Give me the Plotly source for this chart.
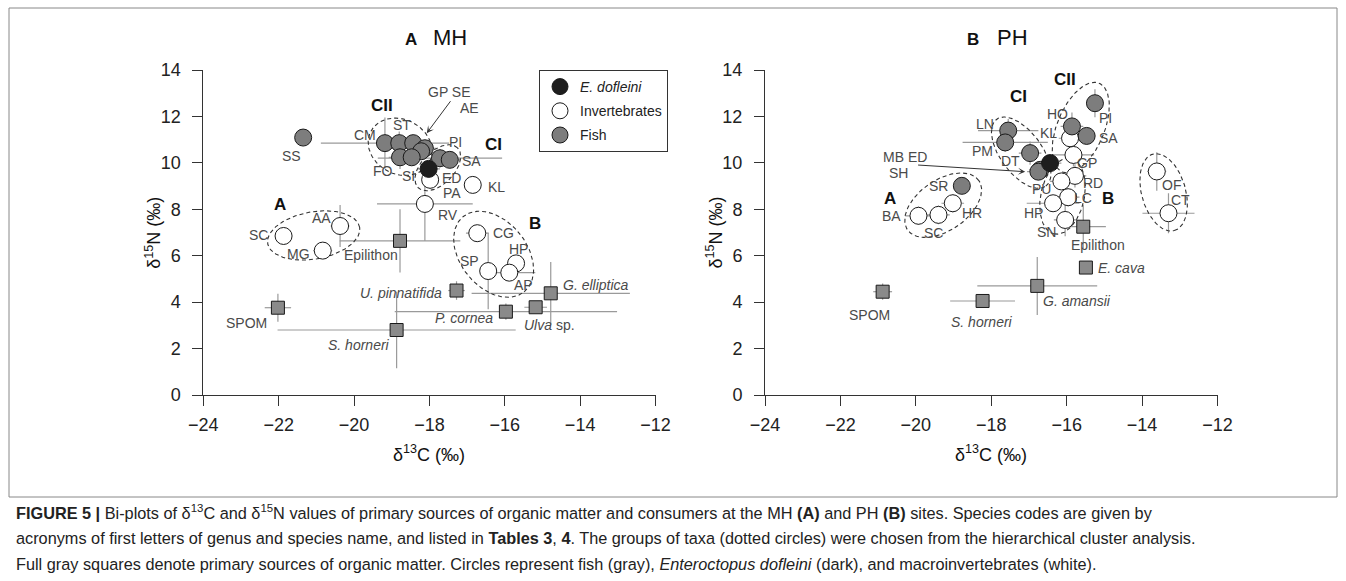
import numpy as np
import plotly.graph_objects as go

W, H = 1346, 581
FONT = "Liberation Sans, Arial, sans-serif"

# ---------------- Data: panel A (MH) ----------------
MH_code = ["SS", "CM", "ST", "GP", "SE", "AE", "FO", "SI", "PI", "SA", "ED", "PA", "KL", "RV",
           "AA", "SC", "MG", "CG", "SP", "HP", "AP",
           "Epilithon", "SPOM", "U. pinnatifida", "S. horneri", "P. cornea", "Ulva sp.", "G. elliptica"]
MH_kind = ["fish", "fish", "fish", "fish", "fish", "fish", "fish", "fish", "fish", "fish", "octo", "inv", "inv", "inv",
           "inv", "inv", "inv", "inv", "inv", "inv", "inv",
           "src", "src", "src", "src", "src", "src", "src"]
MH_c13 = [-21.35, -19.18, -18.80, -18.43, -18.12, -18.22, -18.78, -18.47, -17.72, -17.46, -18.02, -17.98, -16.85, -18.12,
          -20.37, -21.87, -20.83, -16.73, -16.44, -15.70, -15.88,
          -18.78, -22.02, -17.28, -18.87, -15.97, -15.18, -14.78]
MH_n15 = [11.09, 10.85, 10.85, 10.85, 10.63, 10.50, 10.24, 10.24, 10.20, 10.13, 9.74, 9.27, 9.05, 8.23,
          7.28, 6.85, 6.22, 6.97, 5.34, 5.67, 5.27,
          6.64, 3.76, 4.50, 2.80, 3.59, 3.78, 4.38]
MH_c13_sd = [0.05, 1.70, 0.30, 0.30, 0.30, 0.20, 0.30, 0.30, 1.65, 0.30, 0.30, 0.20, 0.20, 1.27,
             0.25, 0.22, 0.25, 0.30, 0.20, 0.20, 0.69,
             1.60, 0.35, 0.22, 3.16, 2.95, 0.30, 2.10]
MH_n15_sd = [0.05, 1.10, 0.50, 0.30, 0.30, 0.20, 0.50, 0.30, 0.40, 0.30, 0.30, 0.40, 0.20, 1.60,
             0.90, 0.36, 0.30, 0.20, 1.65, 0.20, 0.20,
             1.36, 0.60, 0.40, 1.65, 0.35, 0.15, 1.35]
MH_groups = {"A": ["SC", "MG", "AA"], "B": ["CG", "SP", "HP", "AP"],
             "CII": ["CM", "ST", "GP", "FO", "SI"], "CI": ["ED", "PA", "PI", "SA"]}

# ---------------- Data: panel B (PH) ----------------
PH_code = ["BA", "SC", "HR", "SR", "LN", "PM", "DT", "MB", "SH", "ED", "KL", "HO", "PI", "SA",
           "GP", "RD", "PU", "LC", "HP", "SN", "OF", "CT",
           "Epilithon", "E. cava", "G. amansii", "S. horneri", "SPOM"]
PH_kind = ["inv", "inv", "inv", "fish", "fish", "fish", "fish", "fish", "fish", "octo", "inv", "fish", "fish", "fish",
           "inv", "inv", "inv", "inv", "inv", "inv", "inv", "inv",
           "src", "src", "src", "src", "src"]
PH_c13 = [-19.93, -19.40, -19.02, -18.78, -17.55, -17.63, -16.97, -16.70, -16.75, -16.44, -15.91, -15.86, -15.25, -15.47,
          -15.82, -15.78, -16.14, -15.96, -16.36, -16.04, -13.61, -13.30,
          -15.56, -15.49, -16.78, -18.23, -20.88]
PH_n15 = [7.72, 7.76, 8.26, 9.01, 11.39, 10.88, 10.42, 9.70, 9.62, 9.99, 11.06, 11.57, 12.57, 11.16,
          10.34, 9.44, 9.20, 8.52, 8.26, 7.54, 9.63, 7.83,
          7.25, 5.49, 4.70, 4.05, 4.45]
PH_c13_sd = [0.35, 0.30, 0.30, 0.15, 0.80, 1.13, 0.30, 0.30, 0.30, 0.30, 0.30, 0.30, 0.20, 0.20,
             0.55, 0.30, 0.30, 0.30, 0.70, 0.30, 0.25, 0.69,
             0.60, 0.05, 1.59, 0.86, 0.25]
PH_n15_sd = [0.40, 0.40, 0.40, 0.15, 0.50, 0.40, 0.50, 0.30, 0.30, 0.30, 0.30, 0.60, 0.60, 0.30,
             0.50, 0.50, 0.30, 0.40, 0.30, 0.70, 0.83, 0.86,
             0.95, 0.05, 1.25, 0.10, 0.35]
PH_groups = {"A": ["BA", "SC", "HR", "SR"], "CI": ["LN", "PM", "DT", "MB", "SH"],
             "CII": ["HO", "PI", "SA", "KL", "GP"], "B": ["PU", "RD", "LC", "HP", "SN"],
             "D": ["OF", "CT"]}

# ---------------- Text placement (annotation positions) ----------------
MH_labels = [("SS", -21.67, 10.30), ("CM", -19.71, 11.21), ("ST", -18.74, 11.64), ("GP SE", -17.46, 13.07),
             ("AE", -16.93, 12.36), ("PI", -17.32, 10.89), ("SA", -16.88, 10.06), ("FO", -19.22, 9.67),
             ("SI", -18.56, 9.44), ("ED", -17.41, 9.34), ("PA", -17.41, 8.72), ("KL", -16.22, 8.95),
             ("RV", -17.50, 7.76), ("AA", -20.86, 7.62), ("SC", -22.54, 6.90), ("MG", -21.48, 6.08),
             ("Epilithon", -19.55, 6.03), ("CG", -16.04, 6.97), ("HP", -15.64, 6.28), ("SP", -16.93, 5.79),
             ("AP", -15.49, 4.74), ("<i>G. elliptica</i>", -13.58, 4.74), ("<i>U. pinnatifida</i>", -18.76, 4.38),
             ("<i>P. cornea</i>", -17.09, 3.30), ("<i>Ulva</i> sp.", -14.81, 3.00), ("SPOM", -22.86, 3.12),
             ("<i>S. horneri</i>", -19.87, 2.16)]
MH_bold = [("CII", -19.25, 12.45), ("CI", -16.31, 10.80), ("A", -21.96, 8.19), ("B", -15.19, 7.40)]
MH_arrow = (-17.41, 12.72, -18.07, 11.28)

PH_labels = [("HO", -16.23, 12.11), ("PI", -14.98, 11.93), ("SA", -14.90, 11.08), ("LN", -18.16, 11.68),
             ("KL", -16.49, 11.29), ("PM", -18.22, 10.53), ("DT", -17.50, 10.09), ("GP", -15.47, 10.01),
             ("MB ED", -20.30, 10.27), ("SH", -20.47, 9.58), ("SR", -19.40, 9.02), ("RD", -15.30, 9.14),
             ("PU", -16.66, 8.87), ("HR", -18.52, 7.86), ("LC", -15.57, 8.49), ("BA", -20.64, 7.69),
             ("SC", -19.53, 6.97), ("HP", -16.88, 7.83), ("SN", -16.53, 7.04), ("Epilithon", -15.17, 6.47),
             ("OF", -13.21, 9.05), ("CT", -12.99, 8.41), ("<i>E. cava</i>", -14.54, 5.49),
             ("<i>G. amansii</i>", -15.73, 4.05), ("<i>S. horneri</i>", -18.25, 3.16), ("SPOM", -21.23, 3.45)]
PH_bold = [("CI", -17.29, 12.84), ("CII", -16.05, 13.60), ("A", -20.68, 8.48), ("B", -14.90, 8.48)]
PH_arrow = (-19.98, 9.91, -17.10, 9.62)

# ---------------- Figure geometry ----------------
X0A, X1A, X0B, X1B = 203.3, 655.5, 765.0, 1217.5
YTOP, YBOT = 70.0, 395.0
SX = (X1A - X0A) / 12.0
SY = (YBOT - YTOP) / 14.0


def px(x):
    return x / W


def py(y):
    return 1 - y / H


STYLE = {
    "fish": dict(color="#7d7d7d", symbol="circle", size=17, name="Fish"),
    "inv": dict(color="#ffffff", symbol="circle", size=17, name="Invertebrates"),
    "octo": dict(color="#1e1e1e", symbol="circle", size=17, name="<i>E. dofleini</i>"),
    "src": dict(color="#8a8a8a", symbol="square", size=13, name="Sources"),
}

fig = go.Figure()


def ellipse(xs, ys, pad_a, pad_b, dx=0.0, dy=0.0):
    """Dashed group outline around member points (geometry in screen pixels)."""
    P = np.column_stack([np.asarray(xs) * SX, np.asarray(ys) * SY])
    d = ((P[:, None, :] - P[None, :, :]) ** 2).sum(-1)
    i, j = np.unravel_index(d.argmax(), d.shape)
    u = P[j] - P[i]
    u = u / np.linalg.norm(u)
    v = np.array([-u[1], u[0]])
    pu, pv = P @ u, P @ v
    cu, cv = (pu.max() + pu.min()) / 2, (pv.max() + pv.min()) / 2
    a = (pu.max() - pu.min()) / 2 + pad_a
    b = (pv.max() - pv.min()) / 2 + pad_b
    t = np.linspace(0, 2 * np.pi, 140)
    pts = np.outer(cu + a * np.cos(t), u) + np.outer(cv + b * np.sin(t), v) + np.array([dx, dy])
    return pts[:, 0] / SX, pts[:, 1] / SY


# outline padding (px along major, px along minor, x shift px, y shift px)
PADS = {"MH": {"A": (18, 13, 0, 6), "B": (23, 20, 2, 0), "CII": (18, 18, 0, 0), "CI": (14, 12, 1, -1)},
        "PH": {"A": (17, 20, 0, 0), "CI": (16, 14, 0, 0), "CII": (20, 15, 0, 0), "B": (16, 14, 0, 0),
               "D": (18, 22, 1, 0)}}
LEGEND_RANK = {"octo": 1, "inv": 2, "fish": 3, "src": 4}


def add_panel(code, kind, c13, n15, c13sd, n15sd, groups, pads, xa, ya, legend):
    # error bars (all behind markers)
    fig.add_trace(go.Scatter(
        x=c13, y=n15, mode="markers", marker=dict(size=1, opacity=0), showlegend=False, hoverinfo="skip",
        error_x=dict(type="data", array=c13sd, color="#9a9a9a", thickness=1.2, width=0),
        error_y=dict(type="data", array=n15sd, color="#9a9a9a", thickness=1.2, width=0),
        xaxis=xa, yaxis=ya))
    # group outlines
    idx = {c: k for k, c in enumerate(code)}
    for g, members in groups.items():
        ex, ey = ellipse([c13[idx[m]] for m in members], [n15[idx[m]] for m in members], *pads[g])
        fig.add_trace(go.Scatter(x=ex, y=ey, mode="lines", line=dict(color="#333333", width=1.1, dash="4px,3px"),
                                 showlegend=False, hoverinfo="skip", xaxis=xa, yaxis=ya))
    for kd in ["src", "inv", "fish", "octo"]:
        sel = [k for k in range(len(code)) if kind[k] == kd]
        st = STYLE[kd]
        fig.add_trace(go.Scatter(
            x=[c13[k] for k in sel], y=[n15[k] for k in sel], text=[code[k] for k in sel],
            mode="markers", name=st["name"], legendgroup=kd,
            marker=dict(color=st["color"], symbol=st["symbol"], size=st["size"], line=dict(color="#1a1a1a", width=1)),
            showlegend=legend and kd != "src", legendrank=LEGEND_RANK[kd],
            xaxis=xa, yaxis=ya))


add_panel(MH_code, MH_kind, MH_c13, MH_n15, MH_c13_sd, MH_n15_sd, MH_groups, PADS["MH"], "x", "y", True)
add_panel(PH_code, PH_kind, PH_c13, PH_n15, PH_c13_sd, PH_n15_sd, PH_groups, PADS["PH"], "x2", "y2", False)

annotations = []
for labels, bold, arrow, xr, yr in [(MH_labels, MH_bold, MH_arrow, "x", "y"), (PH_labels, PH_bold, PH_arrow, "x2", "y2")]:
    for t, x, y in labels:
        annotations.append(dict(text=t, x=x, y=y, xref=xr, yref=yr, showarrow=False, xanchor="center",
                                yanchor="middle", font=dict(family=FONT, size=14, color="#4a4a4a")))
    for t, x, y in bold:
        annotations.append(dict(text="<b>%s</b>" % t, x=x, y=y, xref=xr, yref=yr, showarrow=False,
                                xanchor="center", yanchor="middle",
                                font=dict(family=FONT, size=17, color="#111111")))
    annotations.append(dict(text="", x=arrow[2], y=arrow[3], ax=arrow[0], ay=arrow[1], xref=xr, yref=yr,
                            axref=xr, ayref=yr, showarrow=True, arrowhead=3, arrowsize=1.2, arrowwidth=1,
                            arrowcolor="#333333"))


def paper_text(text, x, y, size, angle=0, color="#111"):
    return dict(text=text, x=px(x), y=py(y), xref="paper", yref="paper", xanchor="center", yanchor="middle",
                textangle=angle, showarrow=False, font=dict(family=FONT, size=size, color=color))


# panel titles, axis titles
for x0, x1, letter, site in [(X0A, X1A, "A", "MH"), (X0B, X1B, "B", "PH")]:
    annotations.append(paper_text("<b>%s</b>" % letter, x0 + 207.5, 40, 17))
    annotations.append(paper_text(site, x0 + 247, 37, 22))
    annotations.append(paper_text("δ<sup>13</sup>C (‰)", (x0 + x1) / 2, 453, 18))
    annotations.append(paper_text("δ<sup>15</sup>N (‰)", x0 - 50, (YTOP + YBOT) / 2, 18, angle=-90))

CAPTION = [
    "<b>FIGURE 5 |</b> Bi-plots of δ<sup>13</sup>C and δ<sup>15</sup>N values of primary sources of organic matter and consumers at the MH <b>(A)</b> and PH <b>(B)</b> sites. Species codes are given by",
    "acronyms of first letters of genus and species name, and listed in <b>Tables 3</b>, <b>4</b>. The groups of taxa (dotted circles) were chosen from the hierarchical cluster analysis.",
    "Full gray squares denote primary sources of organic matter. Circles represent fish (gray), <i>Enteroctopus dofleini</i> (dark), and macroinvertebrates (white).",
]
for k, line in enumerate(CAPTION):
    annotations.append(dict(text=line, x=px(14), y=py(512 + 26 * k), xref="paper", yref="paper", xanchor="left",
                            yanchor="middle", showarrow=False,
                            font=dict(family=FONT, size=16.3, color="#222")))

tickx = [-24, -22, -20, -18, -16, -14, -12]
ticky = [0, 2, 4, 6, 8, 10, 12, 14]
axx = dict(range=[-24, -12], tickvals=tickx, ticktext=["\u2212%d" % abs(v) for v in tickx], showline=True,
           linecolor="#333", linewidth=1, ticks="outside", ticklen=10, tickcolor="#333", showgrid=False,
           zeroline=False, tickfont=dict(family=FONT, size=18, color="#222"), ticklabelstandoff=3, fixedrange=True,
           automargin=False)
axy = dict(range=[0, 14], tickvals=ticky, showline=True, linecolor="#333", linewidth=1, ticks="outside", ticklen=10,
           tickcolor="#333", showgrid=False, zeroline=False, tickfont=dict(family=FONT, size=18, color="#222"),
           ticklabelstandoff=8, fixedrange=True, automargin=False)

fig.update_layout(
    width=W, height=H, autosize=False,
    margin=dict(l=0, r=0, t=0, b=0, pad=0, autoexpand=False), paper_bgcolor="white", plot_bgcolor="white",
    xaxis=dict(axx, domain=[px(X0A), px(X1A)], anchor="y"),
    yaxis=dict(axy, domain=[py(YBOT), py(YTOP)], anchor="x"),
    xaxis2=dict(axx, domain=[px(X0B), px(X1B)], anchor="y2"),
    yaxis2=dict(axy, domain=[py(YBOT), py(YTOP)], anchor="x2"),
    showlegend=True,
    legend=dict(x=px(539), y=py(70), xanchor="left", yanchor="top", bordercolor="#333", borderwidth=1,
                bgcolor="white", font=dict(family=FONT, size=14, color="#222"), tracegroupgap=3,
                itemsizing="trace"),
    annotations=annotations,
    shapes=[dict(type="rect", xref="paper", yref="paper", x0=px(9), x1=px(1337), y0=py(497), y1=py(8),
                 line=dict(color="#888", width=1))],
)

fig.write_html("out.html", config={"displayModeBar": False},
               post_script="document.body.style.margin='0';document.body.style.overflow='hidden';")
